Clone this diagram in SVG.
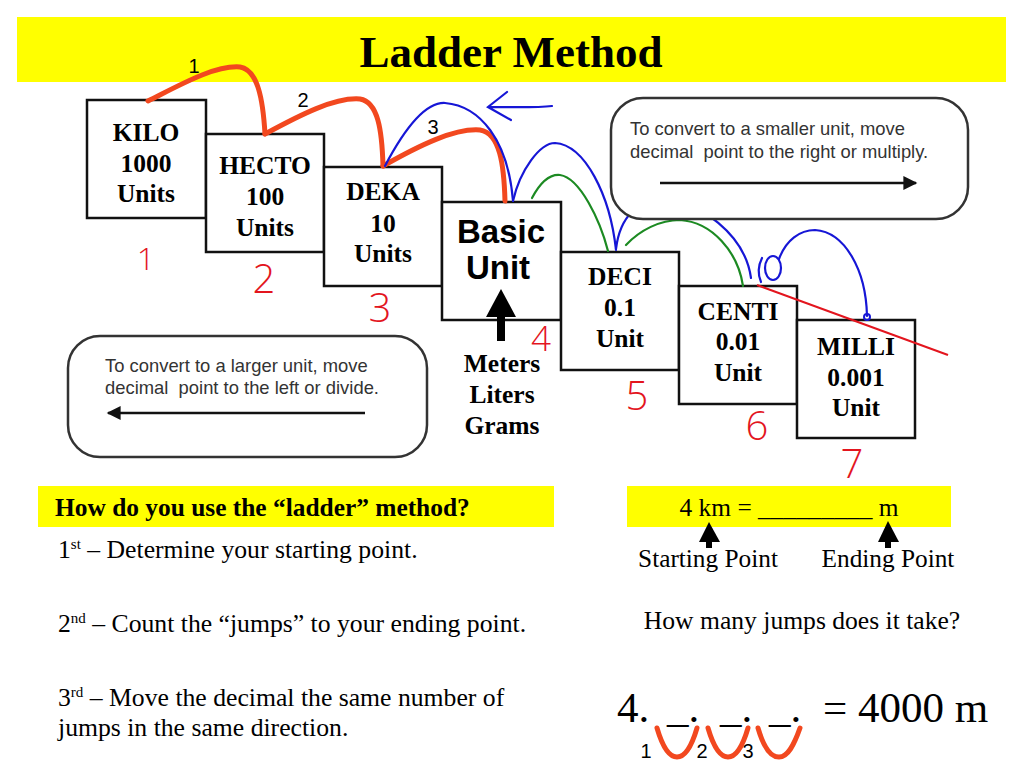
<svg xmlns="http://www.w3.org/2000/svg" width="1024" height="768" viewBox="0 0 1024 768">
<defs>
<style>
.box{fill:#fff;stroke:#111;stroke-width:2.5}
.bt{font-family:"Liberation Serif","Times New Roman",serif;font-weight:bold;font-size:25.5px;text-anchor:middle;fill:#000}
.call{fill:#fff;stroke:#333;stroke-width:2.5}
.ct{font-family:"Liberation Sans",Arial,sans-serif;font-size:18.4px;fill:#333}
.hw{font-family:"Open Sans","Liberation Sans",sans-serif;font-weight:300;font-size:40px;fill:#e3151e;text-anchor:middle}
.or{fill:none;stroke:#f2481f;stroke-width:5;stroke-linecap:round}
.bl{fill:none;stroke:#1616d6;stroke-width:2.2;stroke-linecap:round}
.gr{fill:none;stroke:#1c8a22;stroke-width:2.2;stroke-linecap:round}
.num{font-family:"Liberation Sans",Arial,sans-serif;font-size:20px;fill:#000;text-anchor:middle}
.tr{font-family:"Liberation Serif","Times New Roman",serif;font-size:25.7px;fill:#000}
.yel{fill:#ffff00}
</style>
<marker id="ah" viewBox="0 0 10 10" refX="9" refY="5" markerWidth="22" markerHeight="14" markerUnits="userSpaceOnUse" orient="auto"><path d="M0,0 L10,5 L0,10 z" fill="#111"/></marker>
</defs>
<rect width="1024" height="768" fill="#fff"/>

<g id="title">
<rect class="yel" x="17" y="17" width="989" height="65"/>
<text x="511" y="67" font-family="Liberation Serif,Times New Roman,serif" font-weight="bold" font-size="45" text-anchor="middle">Ladder Method</text>
</g>

<g id="kilo"><rect class="box" x="87" y="100" width="119" height="118"/>
<text class="bt" x="146" y="141">KILO</text><text class="bt" x="146" y="172">1000</text><text class="bt" x="146" y="202">Units</text></g>
<g id="hecto"><rect class="box" x="206" y="134" width="118" height="118"/>
<text class="bt" x="265" y="174">HECTO</text><text class="bt" x="265" y="205">100</text><text class="bt" x="265" y="236">Units</text></g>
<g id="deka"><rect class="box" x="324" y="167" width="118" height="119"/>
<text class="bt" x="383" y="200">DEKA</text><text class="bt" x="383" y="232">10</text><text class="bt" x="383" y="262">Units</text></g>
<g id="basic"><rect class="box" x="442" y="202" width="119" height="118"/>
<text x="501" y="243" font-family="Liberation Sans,Arial,sans-serif" font-weight="bold" font-size="33" text-anchor="middle">Basic</text>
<text x="498" y="279" font-family="Liberation Sans,Arial,sans-serif" font-weight="bold" font-size="33" text-anchor="middle">Unit</text>
<polygon points="501,289 486,317 516,317" fill="#000"/><rect x="497" y="315" width="8" height="26" fill="#000"/>
<text class="bt" x="502" y="372">Meters</text><text class="bt" x="502" y="403">Liters</text><text class="bt" x="502" y="434">Grams</text></g>
<g id="deci"><rect class="box" x="561" y="252" width="118" height="118"/>
<text class="bt" x="620" y="285">DECI</text><text class="bt" x="620" y="316">0.1</text><text class="bt" x="620" y="347">Unit</text></g>
<g id="centi"><rect class="box" x="679" y="286" width="118" height="118"/>
<text class="bt" x="738" y="320">CENTI</text><text class="bt" x="738" y="350">0.01</text><text class="bt" x="738" y="381">Unit</text></g>
<g id="milli"><rect class="box" x="797" y="320" width="118" height="118"/>
<text class="bt" x="856" y="355">MILLI</text><text class="bt" x="856" y="386">0.001</text><text class="bt" x="856" y="416">Unit</text></g>

<g id="handwritten-numbers">
<text class="hw" x="146" y="270" style="font-size:32px">1</text>
<text class="hw" x="264" y="293">2</text>
<text class="hw" x="380" y="322">3</text>
<text class="hw" x="541" y="351" style="font-size:35px">4</text>
<text class="hw" x="637" y="410">5</text>
<text class="hw" x="757" y="440">6</text>
<text class="hw" x="852" y="478">7</text>
</g>

<g id="connectors">
<path class="or" d="M148,101 C180,85 215,65 240,67 C258,70 263,100 265,134"/>
<path class="or" d="M265,134 C300,115 335,97 360,99 C378,102 382,130 383,166"/>
<path class="or" d="M383,166 C420,145 455,128 480,130 C500,133 504,165 505,201"/>
<path class="bl" d="M385,166 C405,128 425,102 445,103 C480,106 508,140 513,201"/>
<path class="bl" d="M513,201 C520,170 540,143 555,143 C585,145 610,195 616,250"/>
<path class="gr" d="M532,198 C540,183 550,174 560,175 C580,178 600,220 608,251"/>
<path class="bl" d="M616,249 C620,215 640,200 660,200 C700,200 745,235 751,278"/>
<path class="gr" d="M626,245 C640,230 660,220 680,220 C712,222 738,252 743,286"/>
<path class="bl" d="M762,258 C758,266 758,275 761,282"/>
<ellipse class="bl" cx="773" cy="268" rx="8" ry="12"/>
<path class="bl" d="M779,259 C786,240 800,230 815,230 C845,232 866,270 867,316"/>
<circle cx="867" cy="317" r="3" fill="none" stroke="#1616d6" stroke-width="2"/>
<path class="bl" d="M552,106 C535,108 510,107 488,107 M507,92 L488,107 L511,120"/>
<path d="M757,285 L948,355" stroke="#e3151e" stroke-width="2" fill="none"/>
<path class="or" d="M657,728 C662,745 668,757 677,757 C686,757 692,745 697,728"/>
<path class="or" d="M708,728 C713,745 719,757 728,757 C737,757 743,745 748,728"/>
<path class="or" d="M758,728 C763,745 770,757 779,757 C788,757 794,745 800,728"/>
</g>

<g id="jump-labels">
<text class="num" x="194" y="73">1</text>
<text class="num" x="303" y="107">2</text>
<text class="num" x="433" y="134">3</text>
<text class="num" x="646" y="758">1</text>
<text class="num" x="702" y="758">2</text>
<text class="num" x="748" y="758">3</text>
</g>

<g id="smaller-callout">
<rect class="call" x="611" y="98" width="357" height="121" rx="32"/>
<text class="ct" x="630" y="135">To convert to a smaller unit, move</text>
<text class="ct" x="630" y="158" xml:space="preserve">decimal  point to the right or multiply.</text>
<line x1="660" y1="183" x2="916" y2="183" stroke="#111" stroke-width="2.5" marker-end="url(#ah)"/>
</g>

<g id="larger-callout">
<rect class="call" x="68" y="336" width="359" height="121" rx="32"/>
<text class="ct" x="105" y="372">To convert to a larger unit, move</text>
<text class="ct" x="105" y="394" xml:space="preserve">decimal  point to the left or divide.</text>
<line x1="365" y1="413" x2="108" y2="413" stroke="#111" stroke-width="2.5" marker-end="url(#ah)"/>
</g>

<g id="how-to">
<rect class="yel" x="38" y="486" width="516" height="41"/>
<text x="55" y="516" font-family="Liberation Serif,Times New Roman,serif" font-weight="bold" font-size="25.4">How do you use the “ladder” method?</text>
<text class="tr" x="58" y="558">1<tspan style="font-size:15px" dy="-9">st</tspan><tspan dy="9"> – Determine your starting point.</tspan></text>
<text class="tr" x="58" y="632">2<tspan style="font-size:15px" dy="-9">nd</tspan><tspan dy="9"> – Count the “jumps” to your ending point.</tspan></text>
<text class="tr" x="58" y="706">3<tspan style="font-size:15px" dy="-9">rd</tspan><tspan dy="9"> – Move the decimal the same number of</tspan></text>
<text class="tr" x="58" y="736">jumps in the same direction.</text>
</g>

<g id="example">
<rect class="yel" x="627" y="486" width="324" height="41"/>
<text class="tr" x="789" y="516" style="font-size:25.4px" text-anchor="middle">4 km = _________ m</text>
<polygon points="709,522 699,542 720,542" fill="#000"/><rect x="706" y="540" width="6" height="8" fill="#000"/>
<polygon points="888,521 878,542 899,542" fill="#000"/><rect x="885" y="540" width="6" height="8" fill="#000"/>
<text class="tr" x="708" y="567" text-anchor="middle" style="font-size:25.3px">Starting Point</text>
<text class="tr" x="888" y="567" text-anchor="middle" style="font-size:25.3px">Ending Point</text>
<text class="tr" x="802" y="629" text-anchor="middle" style="font-size:25.6px">How many jumps does it take?</text>
<text class="tr" y="722" style="font-size:43px"><tspan x="617">4.</tspan><tspan x="667">_.</tspan><tspan x="720">_.</tspan><tspan x="769">_.</tspan><tspan x="823">= 4000 m</tspan></text>
</g>
</svg>
